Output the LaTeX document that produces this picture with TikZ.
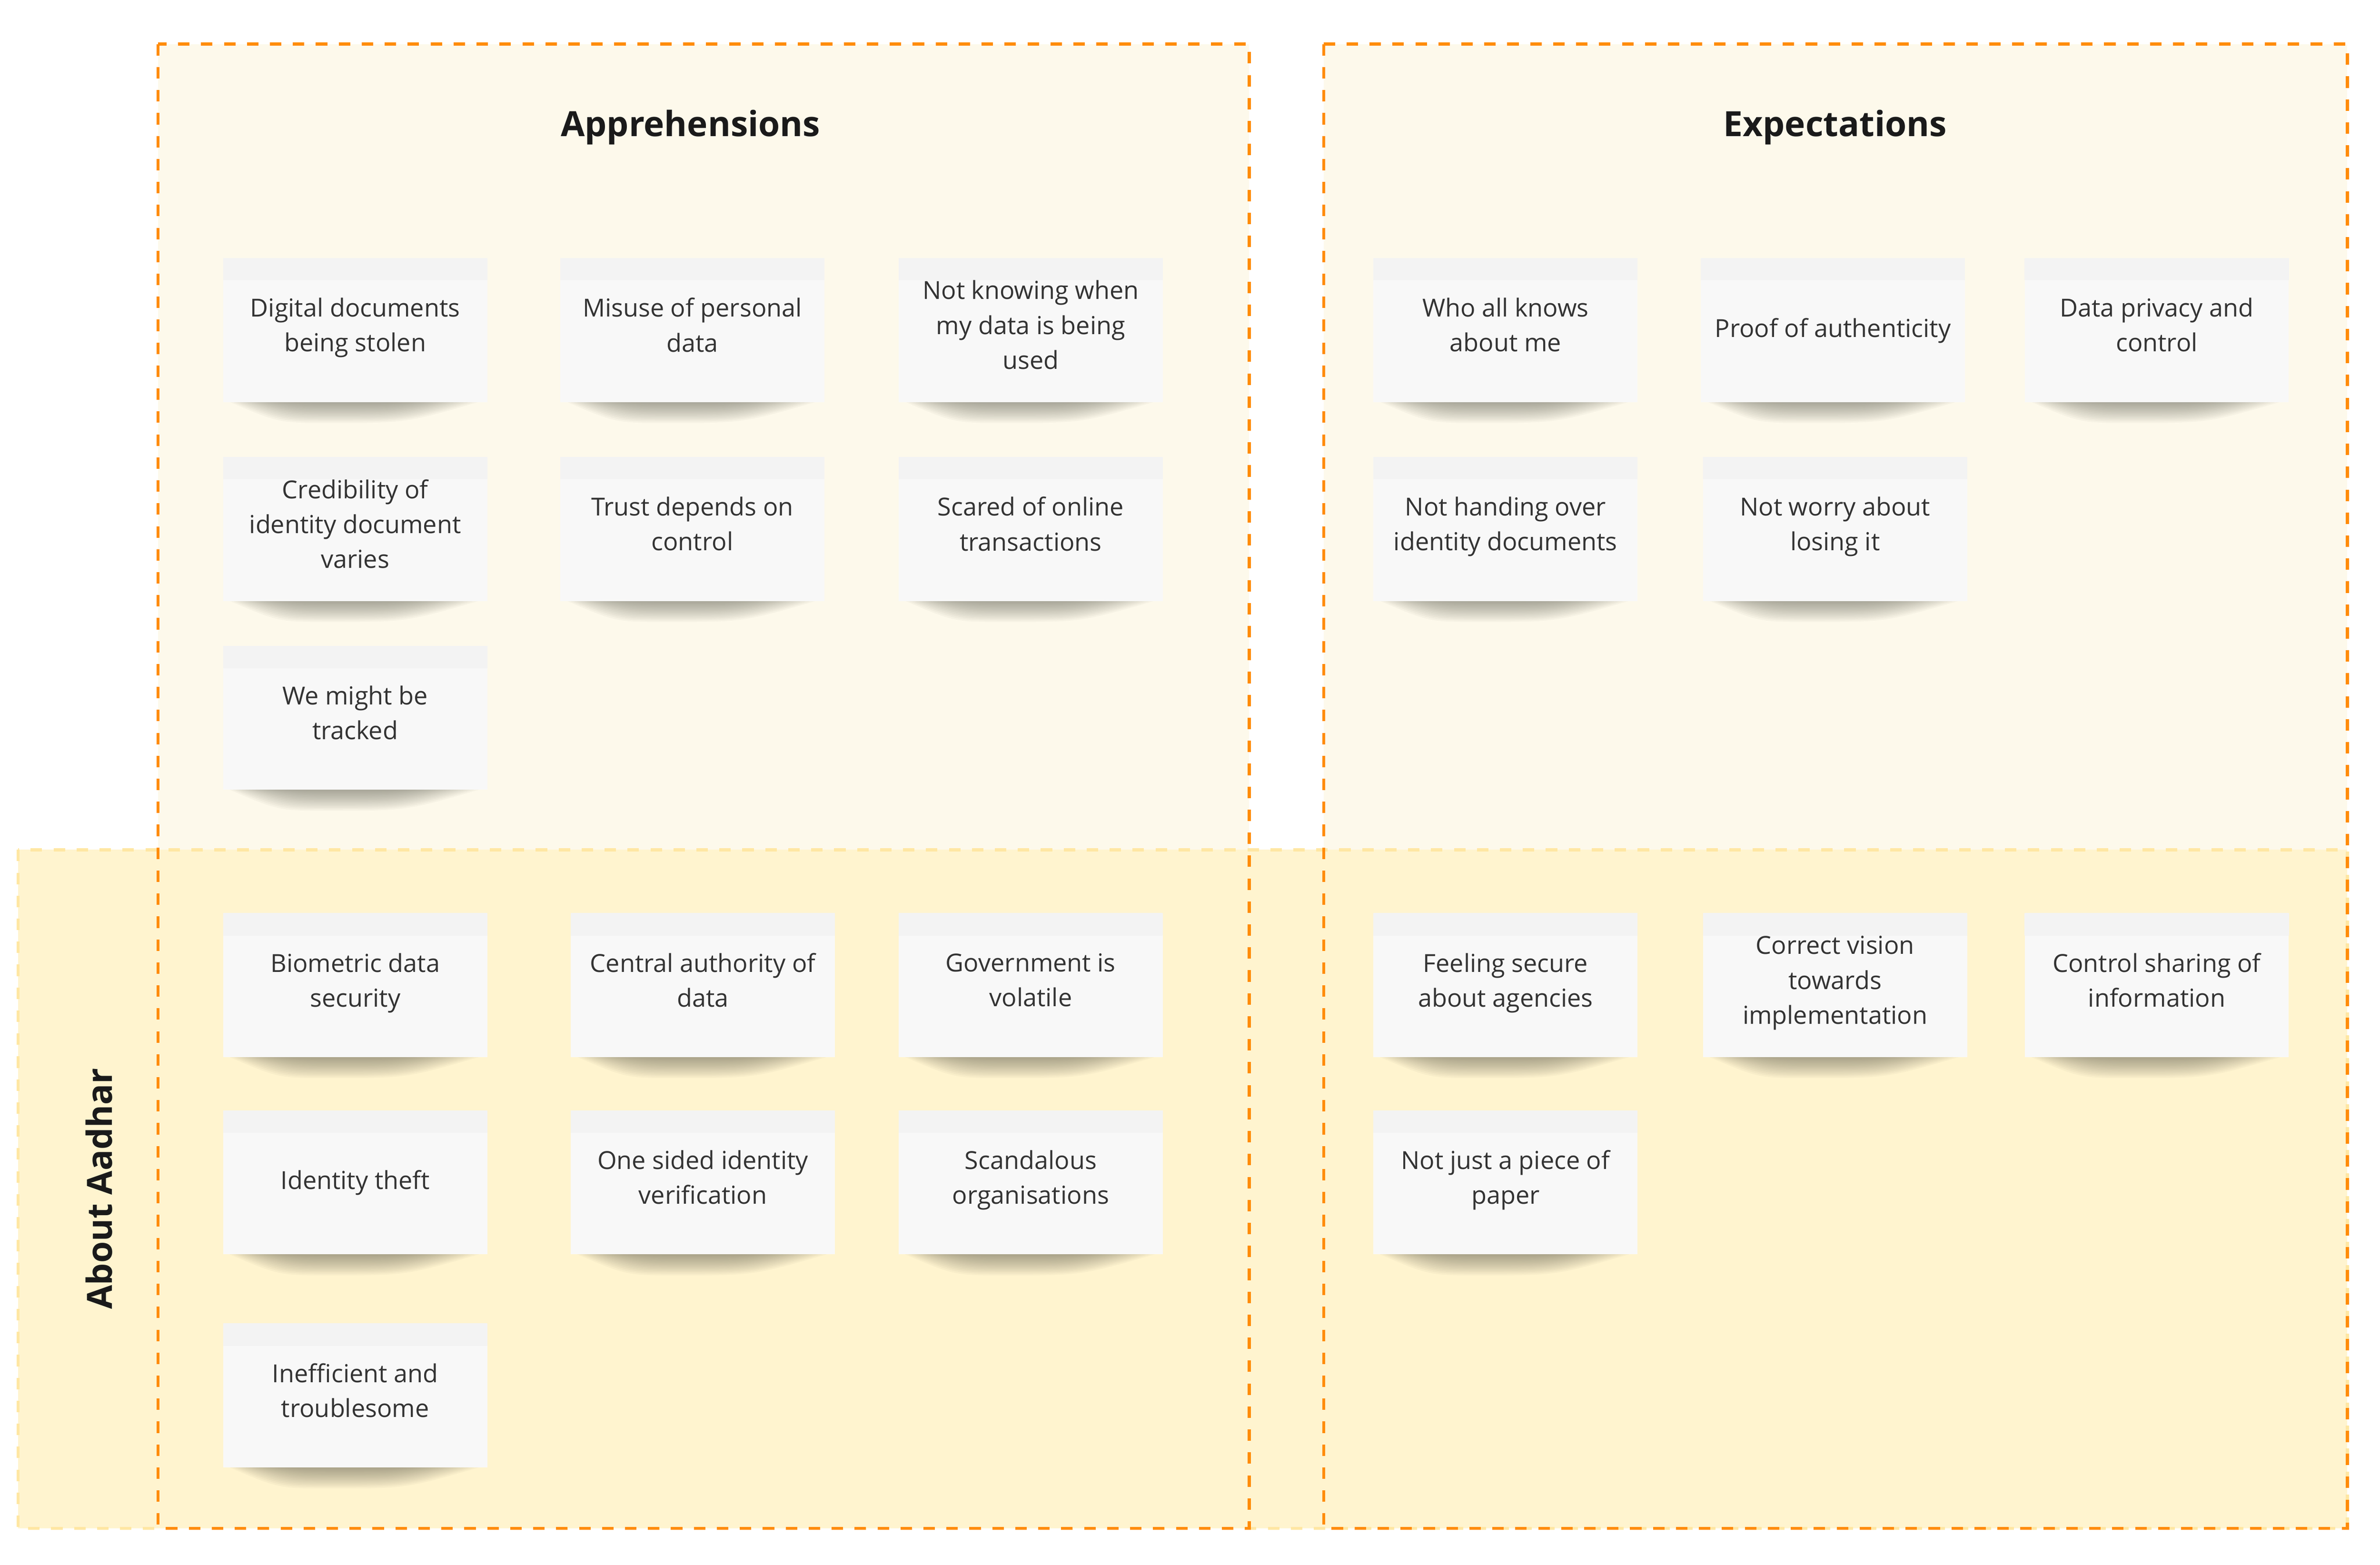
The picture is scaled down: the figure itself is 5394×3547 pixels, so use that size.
\documentclass[tikz,border=0pt]{standalone}
\usepackage{fontspec}
\setmainfont{Open Sans}
\definecolor{orangeline}{HTML}{FF8C0A}
\definecolor{topfill}{HTML}{FDF9EB}
\definecolor{bandfill}{HTML}{FFF4CF}
\definecolor{banddash}{HTML}{FFE7A3}
\definecolor{notefill}{HTML}{F8F8F8}
\definecolor{notetop}{HTML}{F3F3F3}
\definecolor{textgray}{HTML}{333333}
\definecolor{titlecol}{HTML}{1A1A1A}
\definecolor{shadowcol}{HTML}{3A3A30}
\tikzset{
  frame/.style={draw=orangeline, line width=2pt, dash pattern=on 0.26cm off 0.26cm},
  bandline/.style={draw=banddash, line width=2pt, dash pattern=on 0.26cm off 0.26cm},
  title/.style={font=\fontsize{22.4}{27}\selectfont\bfseries, text=titlecol},
  stickynote/.style={minimum width=5.98cm, minimum height=3.26cm, inner sep=0pt,
    fill=notefill, text=textgray, align=center,
    font=\fontsize{16}{22.5}\selectfont,
    path picture={\shade[top color=notetop, bottom color=notefill!60!notetop] (path picture bounding box.north west) rectangle ([yshift=-0.5cm]path picture bounding box.north east);}},
}
% one layer of the shadow: #1 cx, #2 bottom y, #3 left offset, #4 right offset, #5 deepest x offset, #6 depth, #7 opacity
\newcommand\shadowlayer[7]{%
  \fill[shadowcol, opacity=#7] ({#1+(#3)},{#2-3}) -- ({#1+(#4)},{#2-3})
    .. controls ({#1+0.5*(#4)+0.5*(#5)},{#2+#6}) .. ({#1+(#5)},{#2+#6})
    .. controls ({#1+0.5*(#5)+0.5*(#3)},{#2+#6}) .. ({#1+(#3)},{#2-3}) -- cycle;%
}
\newcommand\noteshadow[2]{%
  \foreach \i in {1,...,14}{%
    \shadowlayer{#1}{#2+163}{-200-6.5*\i}{150+10*\i}{-15-3*\i}{3.4*\i}{0.034}%
  }%
}
\newcommand\sticky[4]{%
  \noteshadow{#2}{#3}%
  \node[stickynote] (#1) at (#2,#3) {#4\strut};%
}
\begin{document}
\begin{tikzpicture}[x=0.01cm, y=-0.01cm]
\useasboundingbox (0,0) rectangle (5394,3547);
% backgrounds
\fill[topfill] (358,100) rectangle (2831,1926);
\fill[topfill] (3000,100) rectangle (5320,1926);
\fill[bandfill] (41,1926) rectangle (5320,3464);
\draw[bandline] (41,1926) rectangle (5320,3464);
\draw[frame] (358,100) rectangle (2831,3464);
\draw[frame] (3000,100) rectangle (5320,3464);
% titles
\node[title] (tapp) at (1565,289) {Apprehensions};
\node[title] (texp) at (4159,289) {Expectations};
\node[title, rotate=90] (tabout) at (224,2694) {About Aadhar};
% apprehensions, top
\sticky{a1}{805}{748}{Digital documents\\being stolen}
\sticky{a2}{1569}{748}{Misuse of personal\\data}
\sticky{a3}{2336}{748}{Not knowing when\\my data is being\\used}
\sticky{a4}{805}{1199}{Credibility of\\identity document\\varies}
\sticky{a5}{1569}{1199}{Trust depends on\\control}
\sticky{a6}{2336}{1199}{Scared of online\\transactions}
\sticky{a7}{805}{1627}{We might be\\tracked}
% expectations, top
\sticky{e1}{3412}{748}{Who all knows\\about me}
\sticky{e2}{4154}{748}{Proof of authenticity}
\sticky{e3}{4888}{748}{Data privacy and\\control}
\sticky{e4}{3412}{1199}{Not handing over\\identity documents}
\sticky{e5}{4159}{1199}{Not worry about\\losing it}
% apprehensions, about Aadhar
\sticky{b1}{805}{2233}{Biometric data\\security}
\sticky{b2}{1593}{2233}{Central authority of\\data}
\sticky{b3}{2336}{2233}{Government is\\volatile}
\sticky{b4}{805}{2680}{Identity theft}
\sticky{b5}{1593}{2680}{One sided identity\\verification}
\sticky{b6}{2336}{2680}{Scandalous\\organisations}
\sticky{b7}{805}{3163}{Inefficient and\\troublesome}
% expectations, about Aadhar
\sticky{f1}{3412}{2233}{Feeling secure\\about agencies}
\sticky{f2}{4159}{2233}{Correct vision\\towards\\implementation}
\sticky{f3}{4888}{2233}{Control sharing of\\information}
\sticky{f4}{3412}{2680}{Not just a piece of\\paper}
\end{tikzpicture}
\end{document}
